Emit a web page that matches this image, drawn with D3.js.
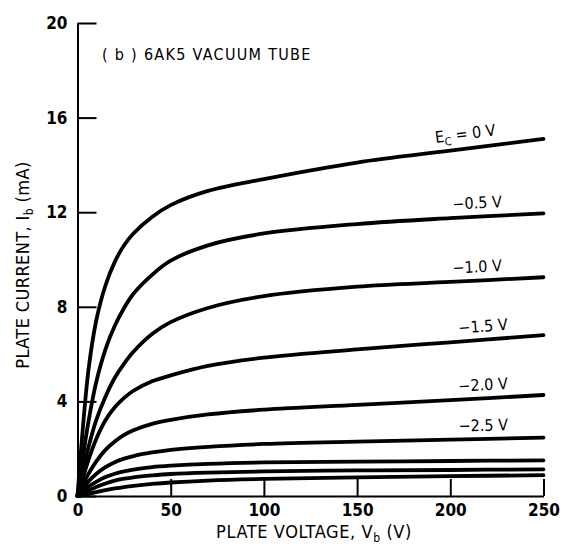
<!DOCTYPE html>
<html lang="en">
<head>
  <meta charset="UTF-8">
  <title>6AK5 Vacuum Tube Plate Characteristics</title>
  <script src="https://d3js.org/d3.v7.min.js"></script>
  <style>
    body {
      margin: 0;
      padding: 0;
      background: #fff;
    }
    svg text {
      font-family: "Liberation Sans Narrow", "DejaVu Sans Condensed", "Arial Narrow", sans-serif;
      fill: #000;
    }
    .tick text {
      font-weight: bold;
      font-size: 17px;
    }
    .axis path, .axis line {
      stroke: #000;
      stroke-width: 2;
    }
    .curve {
      fill: none;
      stroke: #000;
      stroke-width: 3.8;
      stroke-linecap: round;
    }
  </style>
</head>
<body>
  <div id="chart"></div>

  <script>
    // plate voltage grid (V) shared by every curve
    const plateVoltage = [0, 3, 6, 10, 15, 20, 25, 30, 40, 50, 70, 100, 150, 200, 250];

    // grid bias values, one curve each
    const gridBias = [0, -0.5, -1.0, -1.5, -2.0, -2.5, -3.0, -3.5, -4.0];

    // plate current (mA), one array per grid bias
    const ec0   = [0, 3.0, 5.4, 7.4, 8.9, 9.9, 10.6, 11.1, 11.8, 12.3, 12.9, 13.4, 14.1, 14.6, 15.1];
    const ecM05 = [0, 1.7, 3.2, 4.8, 6.2, 7.2, 7.95, 8.55, 9.35, 9.95, 10.6, 11.1, 11.5, 11.75, 11.95];
    const ecM10 = [0, 1.1, 2.1, 3.2, 4.2, 5.0, 5.6, 6.1, 6.85, 7.35, 7.95, 8.45, 8.85, 9.05, 9.25];
    const ecM15 = [0, 0.8, 1.55, 2.4, 3.2, 3.75, 4.15, 4.45, 4.85, 5.1, 5.5, 5.85, 6.2, 6.5, 6.8];
    const ecM20 = [0, 0.5, 0.95, 1.45, 1.95, 2.3, 2.58, 2.78, 3.05, 3.22, 3.45, 3.65, 3.85, 4.05, 4.27];
    const ecM25 = [0, 0.33, 0.62, 0.93, 1.22, 1.43, 1.58, 1.69, 1.84, 1.95, 2.08, 2.2, 2.3, 2.38, 2.47];
    const ecM30 = [0, 0.2, 0.4, 0.6, 0.8, 0.94, 1.04, 1.12, 1.22, 1.28, 1.36, 1.42, 1.45, 1.48, 1.51];
    const ecM35 = [0, 0.11, 0.23, 0.38, 0.53, 0.65, 0.73, 0.79, 0.87, 0.93, 0.99, 1.04, 1.08, 1.1, 1.13];
    const ecM40 = [0, 0.04, 0.09, 0.16, 0.25, 0.32, 0.38, 0.43, 0.51, 0.57, 0.65, 0.72, 0.79, 0.84, 0.88];

    const currents = [ec0, ecM05, ecM10, ecM15, ecM20, ecM25, ecM30, ecM35, ecM40];

    // curve labels (only the top six are labelled in the original)
    const curveLabels = ["0 V", "\u22120.5 V", "\u22121.0 V", "\u22121.5 V", "\u22122.0 V", "\u22122.5 V"];

    const xTicks = [0, 50, 100, 150, 200, 250];
    const yTicks = [0, 4, 8, 12, 16, 20];

    const width = 568;
    const height = 544;

    const svg = d3.select("#chart")
      .append("svg")
      .attr("width", width)
      .attr("height", height);

    const x = d3.scaleLinear().domain([0, 250]).range([77.5, 543.5]);
    const y = d3.scaleLinear().domain([0, 20]).range([496, 23]);

    // axes with inward ticks
    svg.append("g")
      .attr("class", "axis")
      .attr("transform", `translate(0,${y(0)})`)
      .call(d3.axisBottom(x).tickValues(xTicks).tickSizeInner(-17).tickSizeOuter(0).tickPadding(8));

    svg.append("g")
      .attr("class", "axis")
      .attr("transform", `translate(${x(0)},0)`)
      .call(d3.axisLeft(y).tickValues(yTicks).tickSizeInner(-19).tickSizeOuter(0).tickPadding(10));

    // curves
    const line = d3.line()
      .x((d, i) => x(plateVoltage[i]))
      .y(d => y(d))
      .curve(d3.curveCatmullRom.alpha(0.5));

    svg.selectAll(".curve")
      .data(currents)
      .join("path")
      .attr("class", "curve")
      .attr("d", line);

    // labels sitting above the right end of each curve
    const labelV = 231;
    const n = plateVoltage.length;
    const i200 = plateVoltage.indexOf(200);
    curveLabels.forEach((lab, i) => {
      const vals = currents[i];
      const yEnd = vals[n - 1];
      const yAt = vals[i200] + (yEnd - vals[i200]) * (labelV - 200) / 50;
      const ang = Math.atan2(y(yEnd) - y(vals[i200]), x(250) - x(200)) * 180 / Math.PI;
      const tx = x(labelV) - (i === 0 ? 12 : i < 3 ? 6 : 0);
      const ty = y(yAt) - 8;
      const t = svg.append("text")
        .attr("transform", `translate(${tx},${ty}) rotate(${ang})`)
        .attr("text-anchor", "end")
        .style("font-size", "16px");
      if (i === 0) {
        t.append("tspan").text("E");
        t.append("tspan").text("C").attr("dy", 4).style("font-size", "11px");
        t.append("tspan").text(" = " + lab).attr("dy", -4);
      } else {
        t.text(lab);
      }
    });

    // title
    svg.append("text")
      .attr("x", 102)
      .attr("y", 60)
      .style("font-size", "16px")
      .style("letter-spacing", "1.3px")
      .text("( b )  6AK5 VACUUM TUBE");

    // axis titles
    const xt = svg.append("text")
      .attr("x", 314)
      .attr("y", 538)
      .attr("text-anchor", "middle")
      .style("font-size", "18px")
      .style("letter-spacing", "0.6px");
    xt.append("tspan").text("PLATE VOLTAGE, V");
    xt.append("tspan").text("b").attr("dy", 4).style("font-size", "12px");
    xt.append("tspan").text(" (V)").attr("dy", -4);

    const yt = svg.append("text")
      .attr("transform", `translate(29,265) rotate(-90)`)
      .attr("text-anchor", "middle")
      .style("font-size", "18px")
      .style("letter-spacing", "0.4px");
    yt.append("tspan").text("PLATE CURRENT, I");
    yt.append("tspan").text("b").attr("dy", 4).style("font-size", "12px");
    yt.append("tspan").text(" (mA)").attr("dy", -4);
  </script>
</body>
</html>
